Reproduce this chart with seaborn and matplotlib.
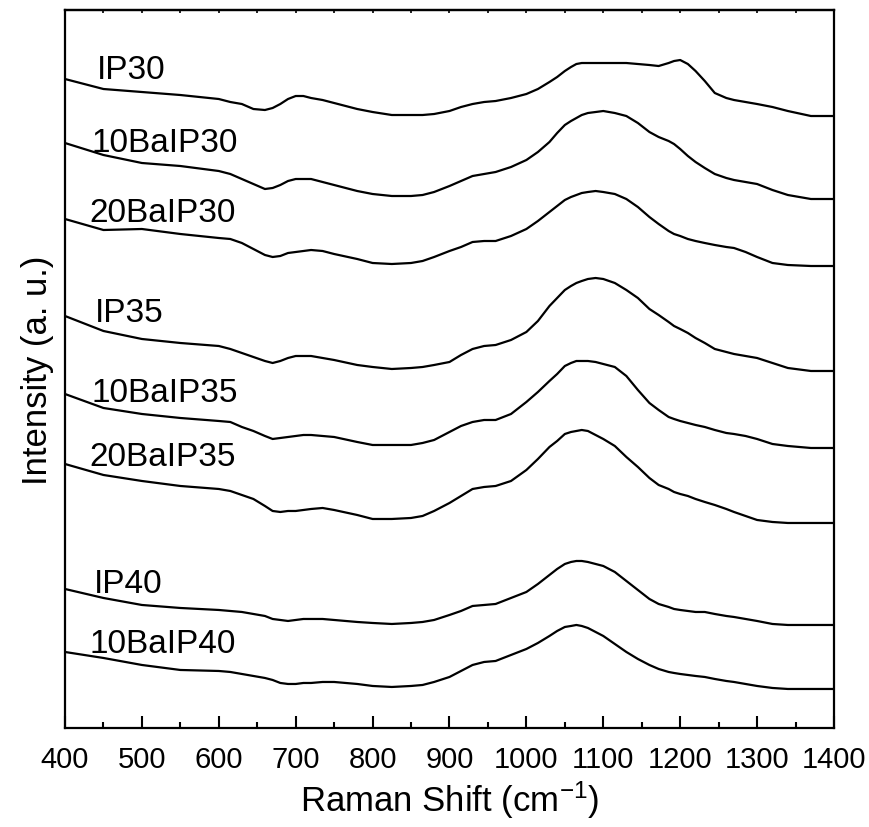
import numpy as np
import pandas as pd
import matplotlib
matplotlib.use("Agg")
import matplotlib.pyplot as plt
from matplotlib.ticker import MultipleLocator, NullFormatter
import seaborn as sns

# Raman shift grid (cm-1)
shift = [400, 450, 500, 550, 600, 615, 630, 645, 660, 670, 680, 690, 700, 710, 720,
         735, 750, 780, 800, 825, 850, 865, 880, 900, 915, 930, 945, 960, 980, 1000,
         1015, 1030, 1040, 1050, 1058, 1065, 1072, 1080, 1090, 1100, 1115, 1130, 1145,
         1160, 1172, 1185, 1192, 1200, 1210, 1220, 1232, 1245, 1260, 1270, 1285, 1300,
         1320, 1340, 1370, 1400]

# stacked (offset) intensities in arbitrary units
IP30 = [920, 910, 907, 904, 900, 897, 895, 890, 889, 891, 895, 900, 903, 903, 901,
        899, 896, 890, 887, 884, 884, 884, 885, 888, 892, 895, 897, 898, 901, 905,
        910, 917, 922, 928, 932, 935, 936, 936, 936, 936, 936, 936, 935, 934, 933,
        936, 938, 939, 935, 928, 918, 906, 901, 899, 897, 895, 892, 888, 883, 883]
BaIP30_10 = [856, 844, 836, 833, 828, 825, 820, 815, 810, 811, 814, 818, 820, 820, 820,
             817, 814, 808, 805, 803, 803, 804, 807, 813, 818, 823, 825, 827, 832, 839,
             847, 857, 866, 874, 878, 881, 884, 886, 887, 888, 886, 883, 876, 867, 862,
             858, 855, 850, 843, 837, 831, 825, 821, 819, 817, 815, 809, 804, 800, 800]
BaIP30_20 = [780, 769, 770, 765, 761, 760, 756, 750, 744, 742, 743, 746, 747, 748, 749,
             748, 745, 740, 736, 735, 736, 738, 742, 748, 752, 757, 758, 758, 763, 770,
             778, 787, 793, 799, 802, 804, 806, 807, 808, 807, 805, 800, 792, 782, 775,
             768, 765, 763, 760, 758, 756, 754, 752, 751, 747, 742, 736, 734, 733, 733]
IP35 = [683, 668, 660, 656, 653, 650, 646, 642, 638, 636, 638, 641, 643, 643, 643,
        641, 639, 634, 632, 630, 631, 632, 634, 637, 644, 650, 653, 654, 659, 667,
        678, 693, 701, 709, 713, 716, 718, 720, 721, 720, 716, 709, 701, 690, 684,
        677, 673, 670, 666, 661, 656, 650, 647, 645, 643, 641, 636, 631, 628, 628]
BaIP35_10 = [605, 591, 585, 581, 578, 577, 572, 568, 563, 560, 561, 562, 563, 564, 564,
             563, 562, 557, 554, 554, 554, 556, 559, 567, 573, 577, 579, 579, 585, 597,
             607, 618, 625, 633, 636, 638, 638, 638, 637, 635, 632, 623, 609, 596, 589,
             582, 580, 578, 576, 574, 572, 569, 566, 565, 563, 560, 555, 553, 551, 551]
BaIP35_20 = [535, 524, 518, 513, 510, 508, 504, 500, 493, 488, 487, 488, 488, 489, 490,
             491, 489, 484, 480, 480, 481, 483, 488, 496, 503, 510, 512, 513, 518, 529,
             540, 552, 558, 565, 567, 568, 569, 568, 564, 560, 553, 542, 532, 521, 514,
             510, 507, 505, 503, 500, 497, 494, 490, 487, 483, 479, 477, 476, 476, 476]
IP40 = [410, 401, 394, 391, 389, 388, 387, 385, 383, 380, 379, 378, 379, 380, 380,
        380, 379, 377, 376, 375, 376, 377, 379, 384, 388, 393, 394, 395, 401, 407,
        415, 424, 430, 435, 437, 438, 438, 437, 435, 433, 427, 418, 409, 400, 395,
        392, 390, 389, 388, 387, 387, 385, 383, 382, 380, 378, 375, 374, 374, 374]
BaIP40_10 = [347, 341, 334, 329, 328, 327, 325, 323, 321, 319, 316, 315, 315, 316, 316,
             317, 317, 315, 313, 312, 313, 314, 317, 322, 328, 334, 337, 338, 344, 350,
             356, 363, 368, 372, 373, 374, 373, 371, 367, 363, 355, 347, 340, 334, 330,
             327, 326, 325, 324, 323, 322, 320, 318, 317, 315, 313, 311, 310, 310, 310]

names = ["IP30", "10BaIP30", "20BaIP30", "IP35", "10BaIP35", "20BaIP35", "IP40", "10BaIP40"]
series = [IP30, BaIP30_10, BaIP30_20, IP35, BaIP35_10, BaIP35_20, IP40, BaIP40_10]

frames = []
for n, s in zip(names, series):
    frames.append(pd.DataFrame({"shift": shift, "intensity": s, "sample": n}))
df = pd.concat(frames, ignore_index=True)

sns.set_style("ticks")
plt.rcParams["font.family"] = ["Liberation Sans", "DejaVu Sans"]
plt.rcParams["mathtext.fontset"] = "custom"
plt.rcParams["mathtext.rm"] = "Liberation Sans"
plt.rcParams["mathtext.it"] = "Liberation Sans:italic"
plt.rcParams["mathtext.bf"] = "Liberation Sans:bold"
for k in ["text.color", "axes.labelcolor", "xtick.color", "ytick.color",
          "axes.edgecolor"]:
    plt.rcParams[k] = "black"

fig = plt.figure(figsize=(8.69, 8.28), dpi=100)
ax = fig.add_axes([0.0748, 0.1196, 0.8849, 0.8671])

sns.lineplot(data=df, x="shift", y="intensity", units="sample", estimator=None,
             color="black", linewidth=1.6, ax=ax, sort=False, legend=False)
for ln in ax.get_lines():
    ln.set_solid_joinstyle("round")

# label positions (x in cm-1, baseline in intensity units)
label_x = [441, 434, 432, 439, 434, 432, 437, 432]
label_y = [921, 848, 778, 678, 598, 534, 407, 347]
for n, lx, ly in zip(names, label_x, label_y):
    ax.text(lx, ly, n, fontsize=24, va="baseline", ha="left", color="black")

ax.set_xlim(400, 1400)
ax.set_ylim(271, 989)
ax.xaxis.set_major_locator(MultipleLocator(100))
ax.xaxis.set_minor_locator(MultipleLocator(50))
ax.set_yticks([])
ax.tick_params(axis="x", which="major", direction="in", length=8.6, width=1.5,
               labelsize=21, pad=12, color="black", labelcolor="black")
ax.tick_params(axis="x", which="minor", direction="in", length=4.3, width=1.5,
               color="black")
for sp in ax.spines.values():
    sp.set_visible(True)
    sp.set_linewidth(1.6)
    sp.set_color("black")

top = ax.secondary_xaxis("top")
top.xaxis.set_major_locator(MultipleLocator(100))
top.xaxis.set_minor_locator(MultipleLocator(50))
top.xaxis.set_major_formatter(NullFormatter())
top.tick_params(axis="x", which="both", direction="in", length=2.0, width=1.2,
                color="black")
top.spines["top"].set_linewidth(1.6)

ax.set_xlabel("Raman Shift (cm$^{\\mathregular{-1}}$)", fontsize=25, labelpad=4)
ax.set_ylabel("Intensity (a. u.)", fontsize=25, labelpad=8)

fig.savefig("out.png", dpi=100)
